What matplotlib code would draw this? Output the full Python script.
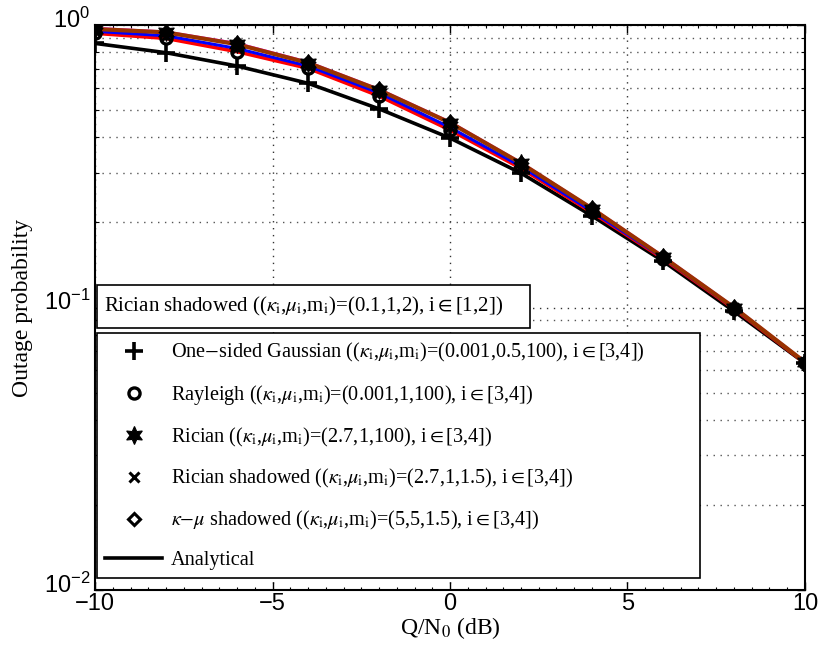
import matplotlib
matplotlib.use("Agg")
import matplotlib.pyplot as plt
from matplotlib.lines import Line2D
from matplotlib.patches import Rectangle
from matplotlib.ticker import LogLocator, MultipleLocator, NullFormatter
from matplotlib.transforms import ScaledTranslation

# Q/N0 in dB
snr_db = [-10, -8, -6, -4, -2, 0, 2, 4, 6, 8, 10]

# outage probability
p_gauss = [0.861, 0.798, 0.716, 0.622, 0.505, 0.398, 0.299, 0.211, 0.146, 0.097, 0.0635]
p_rayleigh = [0.935, 0.897, 0.805, 0.703, 0.561, 0.425, 0.311, 0.217, 0.149, 0.099, 0.0637]
p_rician_sh = [0.950, 0.916, 0.826, 0.716, 0.575, 0.434, 0.316, 0.219, 0.150, 0.0995, 0.0640]
p_kmu_sh = [0.975, 0.947, 0.862, 0.740, 0.593, 0.454, 0.326, 0.225, 0.152, 0.1005, 0.0642]
p_rician = [0.968, 0.942, 0.855, 0.735, 0.589, 0.451, 0.324, 0.224, 0.151, 0.1000, 0.0640]

legend_labels = [
    r"One$-$sided Gaussian (($\kappa_\mathrm{i}$,$\mu_\mathrm{i}$,m$_\mathrm{i}$)=(0.001,0.5,100), i$\in$[3,4])",
    r"Rayleigh (($\kappa_\mathrm{i}$,$\mu_\mathrm{i}$,m$_\mathrm{i}$)=(0.001,1,100), i$\in$[3,4])",
    r"Rician (($\kappa_\mathrm{i}$,$\mu_\mathrm{i}$,m$_\mathrm{i}$)=(2.7,1,100), i$\in$[3,4])",
    r"Rician shadowed (($\kappa_\mathrm{i}$,$\mu_\mathrm{i}$,m$_\mathrm{i}$)=(2.7,1,1.5), i$\in$[3,4])",
    r"$\kappa$$-$$\mu$ shadowed (($\kappa_\mathrm{i}$,$\mu_\mathrm{i}$,m$_\mathrm{i}$)=(5,5,1.5), i$\in$[3,4])",
    "Analytical",
]
top_label = r"Rician shadowed (($\kappa_\mathrm{i}$,$\mu_\mathrm{i}$,m$_\mathrm{i}$)=(0.1,1,2), i$\in$[1,2])"

SERIF = "Liberation Serif"
SANS = "Liberation Sans"

plt.rcParams["mathtext.fontset"] = "custom"
plt.rcParams["mathtext.rm"] = SANS
plt.rcParams["mathtext.it"] = SANS
plt.rcParams["font.family"] = SANS

fig = plt.figure(figsize=(8.22, 6.45), dpi=100)
ax = fig.add_axes([0.1156, 0.0853, 0.8637, 0.8759])

HEX = (6, 1, 0)
DOTS = (0, (1, 4))

# analytical curves
ax.plot(snr_db, p_gauss, color="black", lw=2.6, zorder=3)
ax.plot(snr_db, p_rayleigh, color="red", lw=2.6, zorder=3)
ax.plot(snr_db, p_rician_sh, color="blue", lw=2.2, zorder=4)
ax.plot(snr_db, p_kmu_sh, color="magenta", lw=1.8, zorder=4)
ax.plot(snr_db, p_rician, color="#993300", lw=3.0, zorder=5)

# simulated points
mk = dict(ls="none", color="black")
ax.plot(snr_db, p_kmu_sh, marker="D", ms=6, mew=2.2, mfc="white", zorder=6, **mk)
ax.plot(snr_db, p_rician_sh, marker="x", ms=7, mew=2.2, zorder=6, **mk)
ax.plot(snr_db, p_rayleigh, marker="o", ms=8, mew=2.4, mfc="none", zorder=7, **mk)
ax.plot(snr_db, p_gauss, marker="+", ms=13, mew=2.6, zorder=7, **mk)
ax.plot(snr_db, p_rician, marker=HEX, ms=13, mew=0.8, zorder=8, **mk)

ax.set_yscale("log")
ax.set_xlim(-10, 10)
ax.set_ylim(1e-2, 1)
ax.xaxis.set_major_locator(MultipleLocator(5))
ax.xaxis.set_minor_locator(MultipleLocator(0.5))
ax.yaxis.set_major_locator(LogLocator(base=10, numticks=5))
ax.yaxis.set_minor_locator(LogLocator(base=10, subs=range(2, 10), numticks=20))
ax.yaxis.set_minor_formatter(NullFormatter())

ax.tick_params(which="both", direction="in", top=True, right=True, labelsize=17)
ax.tick_params(which="major", length=6, width=1.0)
ax.tick_params(which="minor", length=3, width=0.8)
ax.tick_params(axis="x", which="minor", length=2)
ax.tick_params(axis="x", which="major", pad=2)
for s in ax.spines.values():
    s.set_linewidth(1.5)

# shift y tick labels upward as in the original
for lab in ax.get_yticklabels():
    lab.set_transform(lab.get_transform() + ScaledTranslation(0, 5.5 / 72, fig.dpi_scale_trans))

ax.grid(True, which="major", ls=DOTS, color="#333333", lw=1.0)
ax.yaxis.grid(True, which="minor", ls=DOTS, color="#555555", lw=1.0)

ax.set_xlabel(r"Q/N$_0$ (dB)", fontsize=17, family=SERIF, math_fontfamily="stix", labelpad=0)
ax.set_ylabel("Outage probability", fontsize=17, family=SERIF, labelpad=8)

# first legend box: text only
ax.add_patch(Rectangle((0.003, 0.464), 0.61, 0.076, transform=ax.transAxes,
                       facecolor="white", edgecolor="black", lw=1.2, zorder=10))
ax.text(0.012, 0.502, top_label, transform=ax.transAxes, fontsize=15, family=SERIF,
        math_fontfamily="stix", va="center", ha="left", zorder=11)

handles = [
    Line2D([], [], ls="none", marker="+", ms=13, mew=2.6, color="black"),
    Line2D([], [], ls="none", marker="o", ms=8, mew=2.4, mfc="none", color="black"),
    Line2D([], [], ls="none", marker=HEX, ms=13, mew=0.8, color="black"),
    Line2D([], [], ls="none", marker="x", ms=7, mew=2.2, color="black"),
    Line2D([], [], ls="none", marker="D", ms=6, mew=2.2, mfc="white", color="black"),
    Line2D([], [], color="black", lw=2.6),
]
leg = ax.legend(handles, legend_labels, loc="lower left",
                bbox_to_anchor=(0.003, 0.021, 0.849, 0.44), mode="expand",
                borderaxespad=0, fancybox=False, framealpha=1, edgecolor="black",
                handlelength=2.8, handletextpad=0.45, labelspacing=0.92,
                prop={"family": SERIF, "size": 14.6, "math_fontfamily": "stix"})
leg.get_frame().set_linewidth(1.2)
leg.set_zorder(12)

fig.savefig("out.png", dpi=100)
